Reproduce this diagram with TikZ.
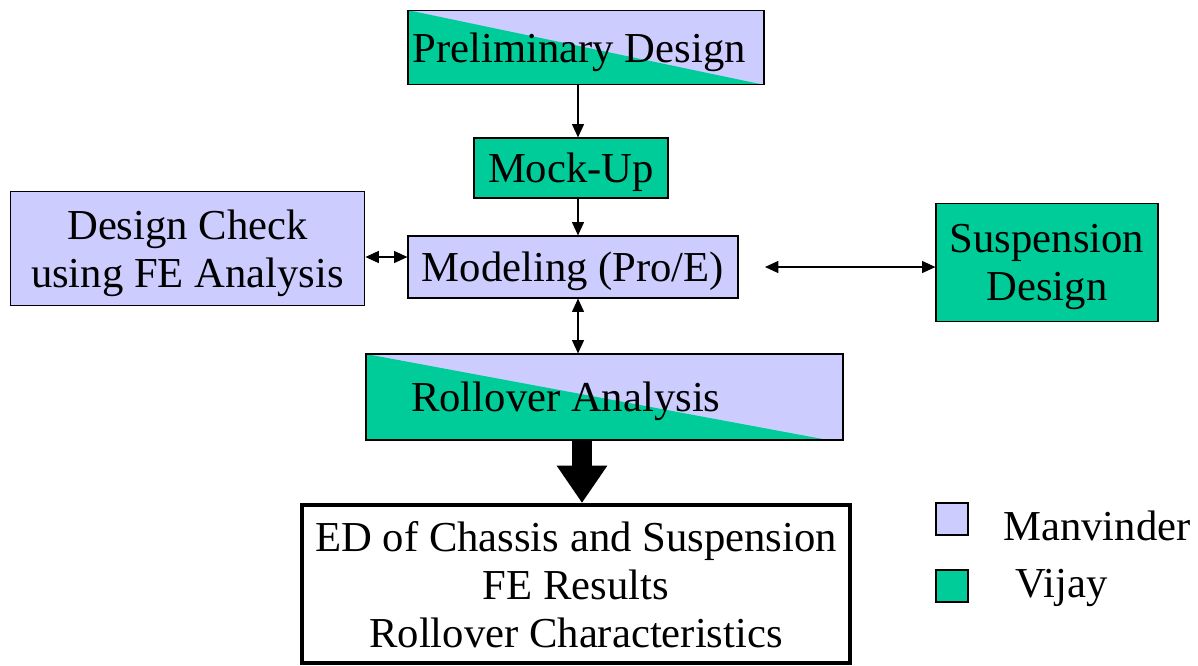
\documentclass[tikz,border=0pt]{standalone}
\usepackage{fontspec}
\setmainfont{Liberation Serif}
\usetikzlibrary{arrows.meta,calc}
\definecolor{lav}{HTML}{CCCCFF}
\definecolor{grn}{HTML}{00CC99}
\begin{document}
\begin{tikzpicture}[x=0.75pt,y=-0.75pt,
  every node/.style={font=\fontsize{32}{36}\selectfont, inner sep=0pt, align=center},
  boxnode/.style={draw=black, line width=0.9pt, minimum width=#1, text depth=0pt},
  lavbox/.style={fill=lav},
  grnbox/.style={fill=grn},
  split/.style={fill=lav, path picture={\fill[grn] (path picture bounding box.north west) -- ($(path picture bounding box.south east)+(-#1,0)$) -- (path picture bounding box.south west) -- cycle;}},
  conn/.style={line width=0.9pt, -{Triangle[length=10pt,width=9pt]}},
  dconn/.style={line width=0.9pt, {Triangle[length=10pt,width=9pt]}-{Triangle[length=10pt,width=9pt]}},
  bigarrow/.style={line width=15pt, -{Triangle[length=28pt,width=36pt]}},
  legsq/.style={draw=black, line width=0.9pt, minimum width=24pt, minimum height=24pt}
]
\useasboundingbox (0,0) rectangle (1198,665);

\node[boxnode=267pt, minimum height=56pt, split=0] (prelim) at (586,47.5) {Preliminary Design\hspace{10pt}};
\node[boxnode=145.5pt, minimum height=45pt, grnbox] (mock) at (571,168) {Mock-Up};
\node[boxnode=266pt, minimum height=85pt, lavbox] (dc) at (187.5,248.5) {Design Check\\using FE Analysis};
\node[boxnode=247.5pt, minimum height=46.5pt, lavbox] (mod) at (573,267) {Modeling (Pro/E)};
\node[boxnode=166.5pt, minimum height=88pt, grnbox] (susp) at (1047,262.5) {Suspension\\Design};
\node[boxnode=357.75pt, minimum height=64.5pt, split=15] (roll) at (604.5,397) {Rollover Analysis\hspace{58pt}};
\node[draw=black, line width=3pt, minimum width=411pt, minimum height=118.5pt, fill=white, text depth=0pt] (final) at (576,584)
  {ED of Chassis and Suspension\\FE Results\\Rollover Characteristics};

\coordinate (ax) at (578,0);
\coordinate (bx) at (582,0);
\coordinate (y1) at (0,257);
\coordinate (ms) at (765,267);

\draw[conn] (prelim.south -| ax) -- (mock.north -| ax);
\draw[conn] (mock.south -| ax) -- (mod.north -| ax);
\draw[dconn] (dc.east |- y1) -- (mod.west |- y1);
\draw[dconn] (ms) -- (ms -| susp.west);
\draw[dconn] (mod.south -| ax) -- (roll.north -| ax);
\draw[bigarrow] (roll.south -| bx) -- (final.north -| bx);

\node[legsq, fill=lav] (lm) at (952,519) {};
\node[legsq, fill=grn] (lv) at (952,586) {};
\node[anchor=base west] (tm) at (1003,540) {Manvinder};
\node[anchor=base west] (tv) at (1015,597) {Vijay};
\end{tikzpicture}
\end{document}
